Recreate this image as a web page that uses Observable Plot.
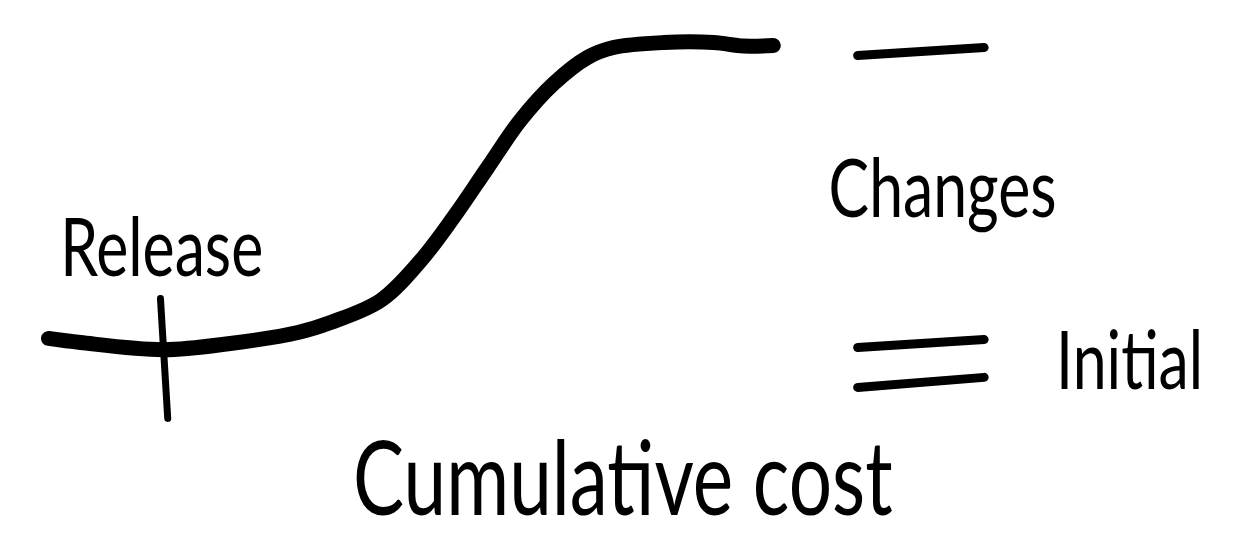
<!DOCTYPE html>
<html>
<head>
<meta charset="utf-8">
<script src="https://cdn.jsdelivr.net/npm/d3@7"></script>
<script src="https://cdn.jsdelivr.net/npm/@observablehq/plot@0.6"></script>
<style>
  body { margin: 0; background: #fff; }
</style>
</head>
<body>
<div id="chart"></div>
<script>
// cumulative cost over time (hand sketch)
let time = [0, 4.4, 15.8, 25, 34.3, 38.8, 45.7, 51.2, 55.7, 60.4, 64.9, 69.5, 74.1, 77.7, 84.6, 91.5, 95.6, 99.7];
let cost = [0.7, -0.7, -3.1, -1, 2.7, 6.1, 13.6, 27.1, 41.7, 58.6, 74.6, 87.1, 95.9, 99.3, 101, 101, 99.8, 100];

// release marker, slightly slanted like the sketch
let releaseTime = [15.4, 16.4];
let releaseSpan = [14.2, -26.4];

// level marks on the right: top dash (changes) and "=" (initial)
let levelFrom = [111.3, 111.3, 111.3];
let levelTo = [128.7, 128.7, 128.7];
let levelStart = [96.6, -2.4, -15.9];
let levelEnd = [99.3, 0.3, -12.5];

let labels = ["Release", "Changes", "Initial"];
let labelTime = [1.6, 107.3, 138.6];
let labelCost = [22, 42, -16.3];
let title = "Cumulative cost";

let curveData = time.map((t, i) => ({t: t, c: cost[i]}));
let levelData = levelFrom.map((x, i) => ({x1: x, x2: levelTo[i], y1: levelStart[i], y2: levelEnd[i]}));
let labelData = labels.map((s, i) => ({s: s, t: labelTime[i], c: labelCost[i]}));

let font = "Lato, 'Open Sans', sans-serif";

let chart = Plot.plot({
  width: 1239,
  height: 549,
  margin: 0,
  x: {domain: [0, 100], range: [48, 775], axis: null},
  y: {domain: [0, 100], range: [340, 45], axis: null},
  style: {background: "#fff", overflow: "visible"},
  marks: [
    Plot.line(curveData, {
      x: "t", y: "c", curve: "catmull-rom",
      stroke: "#000", strokeWidth: 15, strokeLinecap: "round", strokeLinejoin: "round"
    }),
    Plot.link([0], {
      x1: () => releaseTime[0], x2: () => releaseTime[1],
      y1: () => releaseSpan[0], y2: () => releaseSpan[1],
      stroke: "#000", strokeWidth: 7, strokeLinecap: "round"
    }),
    Plot.link(levelData, {
      x1: "x1", x2: "x2", y1: "y1", y2: "y2",
      stroke: "#000", strokeWidth: 9, strokeLinecap: "round"
    }),
    Plot.text(labelData, {
      x: "t", y: "c", text: "s", textAnchor: "start", lineAnchor: "bottom",
      fontSize: 81, fontFamily: font, fill: "#000"
    }),
    Plot.text([title], {
      x: 79, y: -59.3, text: d => d, textAnchor: "middle", lineAnchor: "bottom",
      fontSize: 102, fontFamily: font, fill: "#000"
    })
  ]
});

// squeeze the lettering a bit so it reads narrow and tall like handwriting
d3.select(chart).selectAll("text").each(function() {
  let t = d3.select(this).attr("transform") || "";
  d3.select(this).attr("transform", t + " scale(0.75,1)");
});

d3.select('#chart').append(() => chart);
</script>
</body>
</html>
